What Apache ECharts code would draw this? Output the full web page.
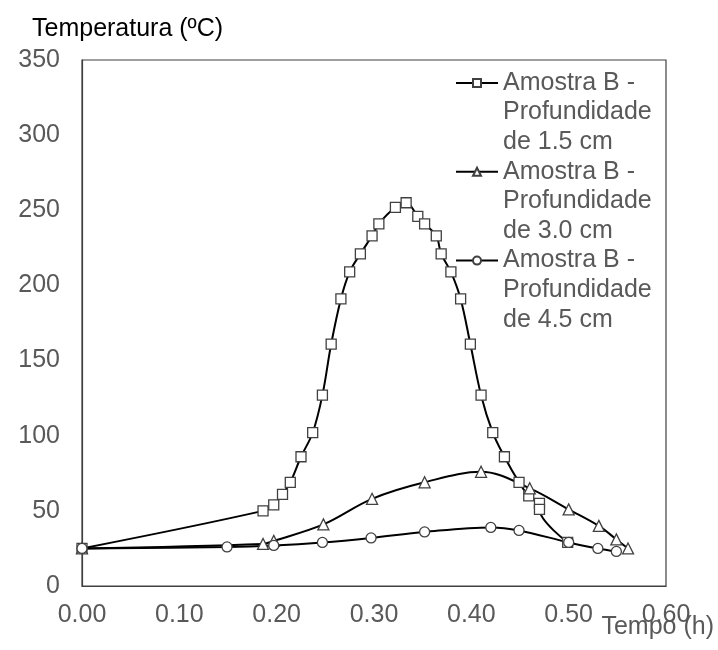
<!DOCTYPE html>
<html>
<head>
<meta charset="utf-8">
<script src="https://cdn.jsdelivr.net/npm/echarts@6/dist/echarts.min.js"></script>
<style>
  html, body { margin: 0; padding: 0; background: #fff; }
  #chart { width: 718px; height: 650px; }
</style>
</head>
<body>
<div id="chart"></div>
<script>
// Amostra B, three depths: time (h) and temperature (ºC)
const tempo15 = [0, 0.186, 0.197, 0.206, 0.214, 0.225, 0.237, 0.247, 0.256, 0.266, 0.275, 0.286, 0.298, 0.305, 0.322, 0.333, 0.345, 0.352, 0.364, 0.369, 0.379, 0.389, 0.399, 0.410, 0.422, 0.434, 0.449, 0.459, 0.470, 0.470, 0.499]
const temp15 = [25, 50, 54, 61, 69, 86, 102, 127, 161, 191, 209, 221, 233, 241, 252, 255, 246, 241, 233, 221, 209, 191, 161, 127, 102, 86, 69, 60, 55, 51, 29]

const tempo30 = [0, 0.186, 0.197, 0.248, 0.298, 0.352, 0.410, 0.460, 0.500, 0.531, 0.549, 0.561]
const temp30 = [25, 28, 30, 41, 58, 69, 76, 65, 51, 40, 31, 25]

const tempo45 = [0, 0.149, 0.197, 0.247, 0.297, 0.352, 0.420, 0.449, 0.500, 0.530, 0.549]
const temp45 = [25, 26, 27, 29, 32, 36, 39, 37, 29, 25, 23]

const seriesNames = [
    'Amostra B -\nProfundidade\nde 1.5 cm',
    'Amostra B -\nProfundidade\nde 3.0 cm',
    'Amostra B -\nProfundidade\nde 4.5 cm'
]

const xTicks = [0, 0.1, 0.2, 0.3, 0.4, 0.5, 0.6]
const yTicks = [0, 50, 100, 150, 200, 250, 300, 350]

const FONT = '"Liberation Sans", Arial, sans-serif'
const GREY = '#595959'
const LINE_H = 29.6

const zip = (xs, ys) => xs.map((x, i) => [x, ys[i]])

const makeSeries = (name, data, symbol, size) => ({
    name,
    type: 'line',
    data,
    smooth: 0.35,
    symbol,
    symbolSize: size,
    showSymbol: true,
    lineStyle: { color: '#000', width: 2 },
    itemStyle: { color: '#fff', borderColor: '#404040', borderWidth: 1.3 },
    emphasis: { disabled: true },
    animation: false
})

const chart = echarts.init(document.getElementById('chart'))

const option = {
    backgroundColor: '#fff',
    textStyle: { fontFamily: FONT },
    grid: {
        left: 82,
        right: 52,
        top: 60,
        bottom: 64,
        show: true,
        borderColor: '#404040',
        borderWidth: 1.2,
        backgroundColor: 'transparent'
    },
    legend: {
        orient: 'vertical',
        left: 455,
        top: 9,
        padding: 0,
        itemWidth: 42,
        itemHeight: 10,
        itemGap: -2 * LINE_H,
        // two blank lines above keep the icon level with the first text line
        formatter: name => '\n\n' + name,
        textStyle: {
            color: GREY,
            fontSize: 25,
            fontFamily: FONT,
            lineHeight: LINE_H
        },
        data: seriesNames
    },
    xAxis: {
        type: 'value',
        min: xTicks[0],
        max: xTicks[xTicks.length - 1],
        interval: 0.1,
        splitLine: { show: false },
        axisTick: { show: false },
        axisLine: { show: true, lineStyle: { color: '#404040', width: 1.2 } },
        axisLabel: {
            color: GREY,
            fontSize: 25,
            fontFamily: FONT,
            margin: 17,
            formatter: v => v.toFixed(2)
        }
    },
    yAxis: {
        type: 'value',
        min: yTicks[0],
        max: yTicks[yTicks.length - 1],
        interval: 50,
        splitLine: { show: false },
        axisTick: { show: false },
        axisLine: { show: true, lineStyle: { color: '#404040', width: 1.2 } },
        axisLabel: {
            color: GREY,
            fontSize: 25,
            fontFamily: FONT,
            margin: 22
        }
    },
    graphic: [
        {
            type: 'text',
            left: 32,
            top: 17,
            style: { text: 'Temperatura (ºC)', fill: '#000', font: '25px ' + FONT }
        },
        {
            type: 'text',
            right: 4,
            top: 615,
            style: { text: 'Tempo (h)', fill: GREY, font: '25px ' + FONT }
        }
    ],
    series: [
        makeSeries(seriesNames[0], zip(tempo15, temp15), 'rect', 10),
        makeSeries(seriesNames[1], zip(tempo30, temp30), 'triangle', 11),
        makeSeries(seriesNames[2], zip(tempo45, temp45), 'circle', 10)
    ]
}

chart.setOption(option)
window.addEventListener('resize', () => chart.resize())
</script>
</body>
</html>
